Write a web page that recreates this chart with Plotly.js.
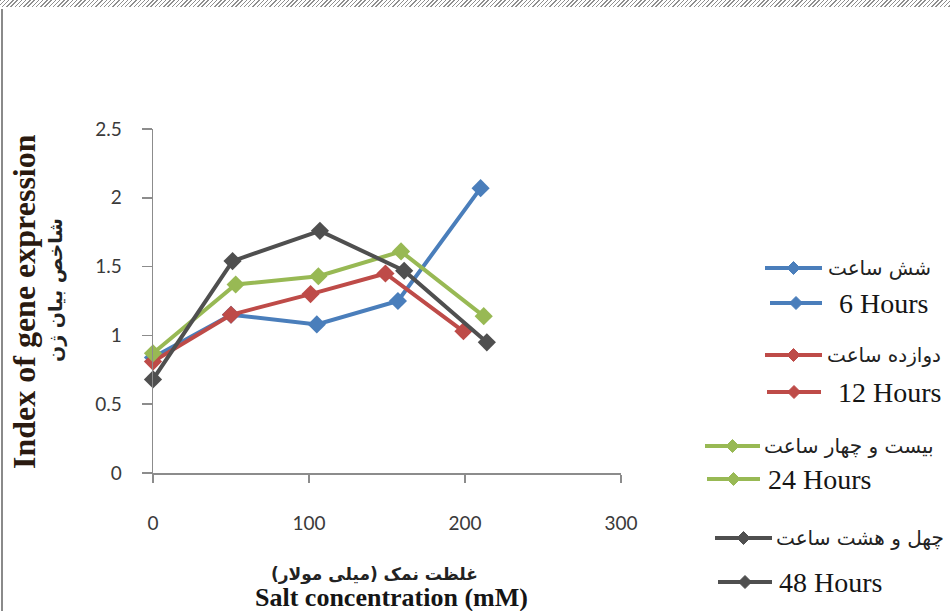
<!DOCTYPE html>
<html>
<head>
<meta charset="utf-8">
<script src="https://cdn.plot.ly/plotly-3.0.1.min.js"></script>
<style>
  html, body { margin: 0; padding: 0; background: #fff; }
  #wrap { position: relative; width: 950px; height: 611px; overflow: hidden; }
  #chart { position: absolute; left: 0; top: 0; width: 950px; height: 611px; }
  #hatch { position: absolute; left: 0; top: 0; width: 950px; height: 7px;
    background: repeating-linear-gradient(135deg, #8f8f8f 0 1px, #ffffff 1px 3px); z-index: 2; }
  #lborder { position: absolute; left: 1px; top: 9px; width: 2px; height: 602px; background: #8a8a8a; z-index: 2; }
</style>
</head>
<body>
<div id="wrap">
  <div id="chart"></div>
  <div id="hatch"></div>
  <div id="lborder"></div>
</div>
<script>
// ---- data ----
const seriesNamesFa = ["شش ساعت", "دوازده ساعت", "بیست و چهار ساعت", "چهل و هشت ساعت"];
const seriesNamesEn = ["6 Hours", "12 Hours", "24 Hours", "48 Hours"];
const seriesColors = ["#4a7ebb", "#be4b48", "#98b954", "#4f4f4f"];

const salt6h  = [0, 50, 105, 157, 210];
const expr6h  = [0.84, 1.15, 1.08, 1.25, 2.07];
const salt12h = [0, 50, 101, 149, 199];
const expr12h = [0.81, 1.15, 1.30, 1.45, 1.03];
const salt24h = [0, 53, 106, 159, 212];
const expr24h = [0.87, 1.37, 1.43, 1.61, 1.14];
const salt48h = [0, 51, 107, 161, 214];
const expr48h = [0.68, 1.54, 1.76, 1.47, 0.95];

const xTickVals = [0, 100, 200, 300];
const yTickVals = [0, 0.5, 1, 1.5, 2, 2.5];
const yTickText = ["0", "0.5", "1", "1.5", "2", "2.5"];

const xTitleFa = "غلظت نمک (میلی مولار)";
const xTitleEn = "Salt concentration (mM)";
const yTitleEn = "Index of gene expression";
const yTitleFa = "شاخص بیان ژن";

// ---- geometry helpers (layout only) ----
const M = {l: 153, r: 329, t: 129, b: 138};
const W = 950, H = 611;
const PW = W - M.l - M.r, PH = H - M.t - M.b;
const px = x => (x - M.l) / PW;
const py = y => (H - M.b - y) / PH;

const xs = [salt6h, salt12h, salt24h, salt48h];
const ys = [expr6h, expr12h, expr24h, expr48h];

const traces = xs.map((x, i) => ({
  type: "scatter", mode: "lines+markers", x: x, y: ys[i],
  name: seriesNamesEn[i], showlegend: false, cliponaxis: false,
  line: {color: seriesColors[i], width: 4},
  marker: {symbol: "diamond", size: 14, color: seriesColors[i]}
}));

// legend layout: [lineStart, lineEnd, yPix, textX] for Persian and English rows
const legendFa = [[765, 822, 268, 826], [765, 822, 355, 825], [705, 760, 446, 762], [715, 772, 538, 774]];
const legendEn = [[770, 822, 303, 837], [767, 821, 392, 836], [707, 760, 479, 766], [718, 772, 582, 777]];

const shapes = [];
const annotations = [];
function legendRow(spec, color, text, font) {
  const [x0, x1, y, tx] = spec;
  shapes.push({type: "line", xref: "paper", yref: "paper", x0: px(x0), x1: px(x1), y0: py(y), y1: py(y),
    line: {color: color, width: 4}});
  const cx = (x0 + x1) / 2, d = 6.5;
  shapes.push({type: "path", xref: "paper", yref: "paper", fillcolor: color, line: {color: color, width: 1},
    path: `M ${px(cx - d)},${py(y)} L ${px(cx)},${py(y - d)} L ${px(cx + d)},${py(y)} L ${px(cx)},${py(y + d)} Z`});
  annotations.push({xref: "paper", yref: "paper", x: px(tx), y: py(y), xanchor: "left", yanchor: "middle",
    showarrow: false, text: text, font: font});
}
seriesColors.forEach((c, i) => {
  legendRow(legendFa[i], c, seriesNamesFa[i], {family: "DejaVu Sans", size: 20, color: "#222"});
  legendRow(legendEn[i], c, seriesNamesEn[i], {family: "Liberation Serif", size: 28, color: "#151515"});
});

annotations.push(
  {xref: "paper", yref: "paper", x: px(24), y: py(302), xanchor: "center", yanchor: "middle", textangle: -90, showarrow: false,
   text: "<b>" + yTitleEn + "</b>", font: {family: "Liberation Serif", size: 32, color: "#2a1a10"}},
  {xref: "paper", yref: "paper", x: px(55), y: py(290), xanchor: "center", yanchor: "middle", textangle: -90, showarrow: false,
   text: "<b>" + yTitleFa + "</b>", font: {family: "DejaVu Sans", size: 19, color: "#222"}},
  {xref: "paper", yref: "paper", x: px(374), y: py(574), xanchor: "center", yanchor: "middle", showarrow: false,
   text: "<b>" + xTitleFa + "</b>", font: {family: "DejaVu Sans", size: 17, color: "#222"}},
  {xref: "paper", yref: "paper", x: px(391), y: py(597), xanchor: "center", yanchor: "middle", showarrow: false,
   text: "<b>" + xTitleEn + "</b>", font: {family: "Liberation Serif", size: 26, color: "#151515"}}
);

const axisColor = "#8c8c8c";
const layout = {
  width: W, height: H, margin: M,
  paper_bgcolor: "#ffffff", plot_bgcolor: "#ffffff",
  showlegend: false,
  xaxis: {range: [0, 300], tickvals: xTickVals, ticks: "outside", ticklen: 8, tickwidth: 1.5,
    tickcolor: axisColor, showline: true, linecolor: axisColor, linewidth: 1.5,
    showgrid: false, zeroline: false, ticklabelstandoff: 25,
    tickfont: {family: "Lato", size: 19, color: "#3a3a3a"}},
  yaxis: {range: [0, 2.5], tickvals: yTickVals, ticktext: yTickText, ticks: "outside", ticklen: 10, tickwidth: 1.5,
    tickcolor: axisColor, showline: true, linecolor: axisColor, linewidth: 1.5,
    showgrid: false, zeroline: false, ticklabelstandoff: 16,
    tickfont: {family: "Lato", size: 19, color: "#3a3a3a"}},
  shapes: shapes,
  annotations: annotations
};

Plotly.newPlot("chart", traces, layout, {staticPlot: true, displayModeBar: false});
</script>
</body>
</html>
